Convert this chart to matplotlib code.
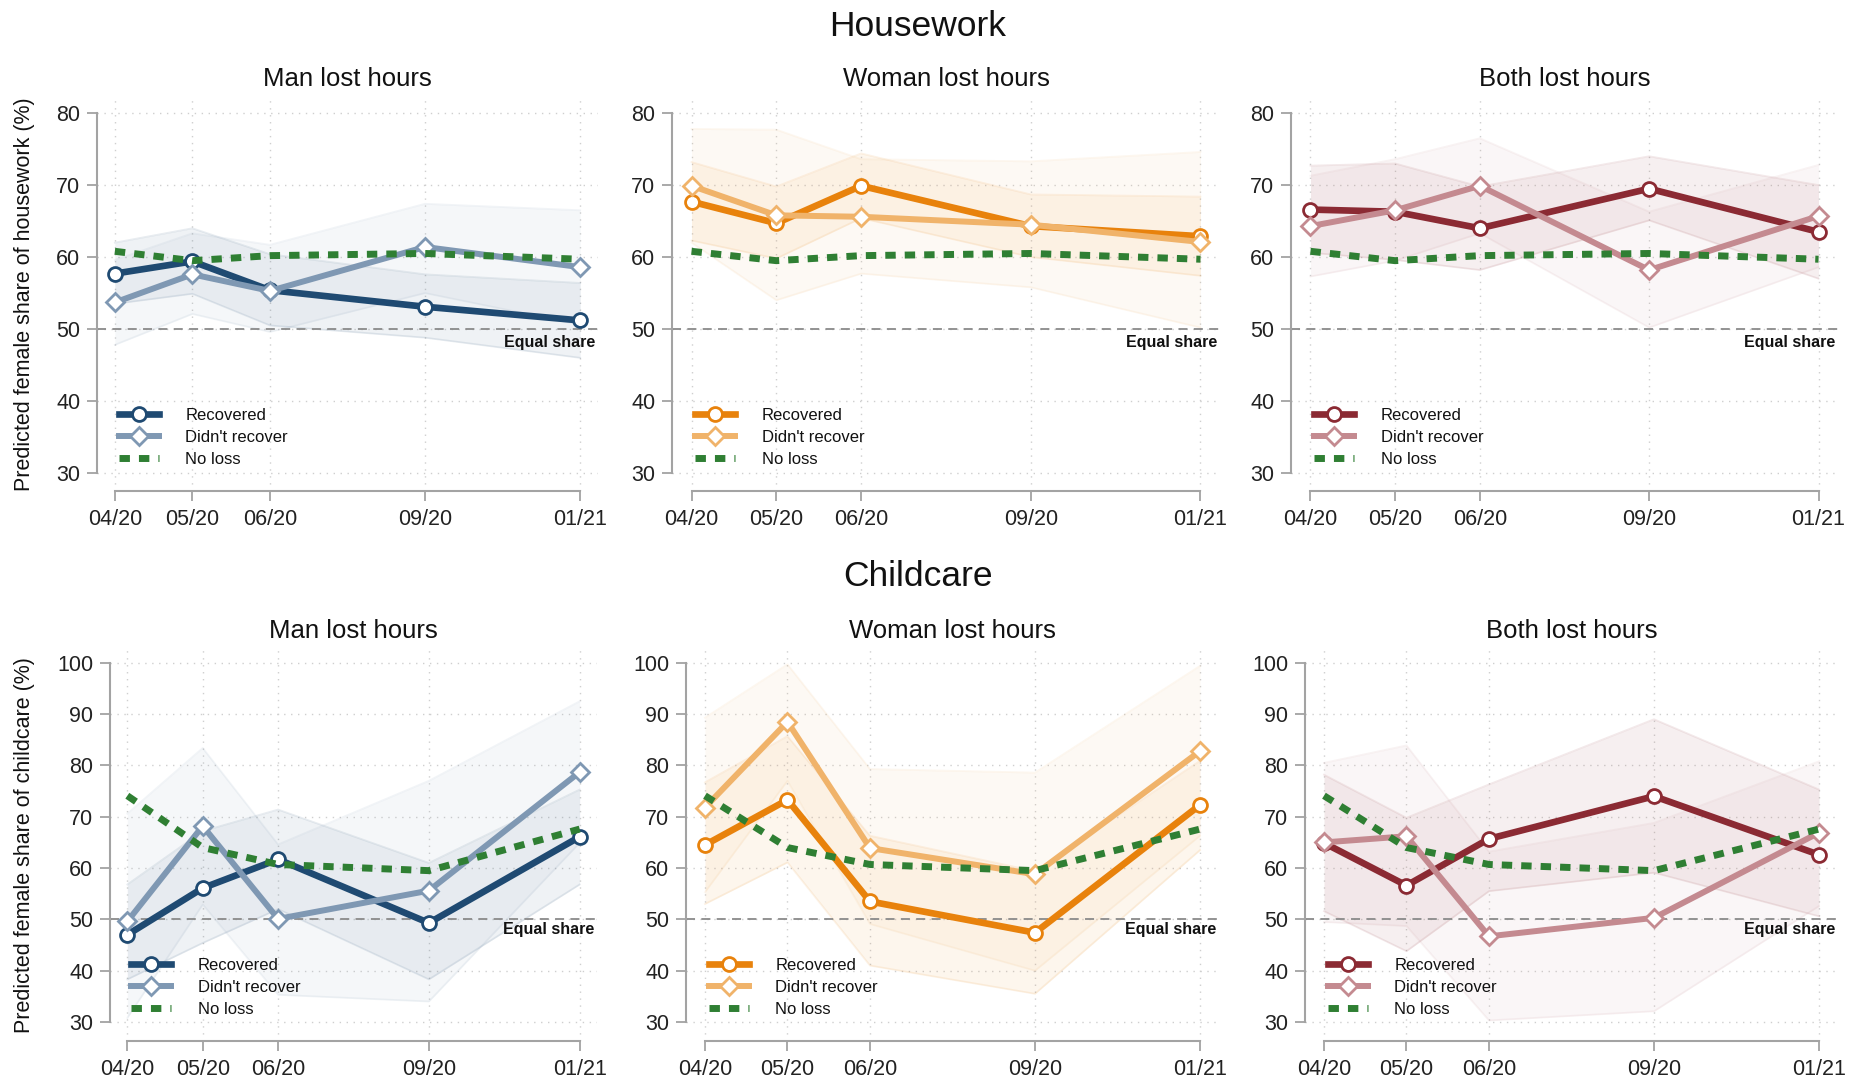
import matplotlib
matplotlib.use("Agg")
import matplotlib.pyplot as plt
from matplotlib.lines import Line2D

plt.rcParams.update({
    "font.family": ["Liberation Sans", "DejaVu Sans"],
    "font.size": 12,
    "text.color": "#111111",
})

# survey waves and their spacing on the x scale
wave_labels = ["04/20", "05/20", "06/20", "09/20", "01/21"]
wave_pos = [0, 1, 2, 4, 6]
series_labels = ["Recovered", "Didn't recover", "No loss"]
panel_titles = ["Man lost hours", "Woman lost hours", "Both lost hours"]

# ---- housework: predicted female share (%) ----
hw_noloss = [60.8, 59.5, 60.2, 60.5, 59.7]

hw_man_rec = [57.7, 59.4, 55.4, 53.1, 51.2]
hw_man_rec_lo = [53.5, 54.9, 50.5, 48.8, 46.0]
hw_man_rec_hi = [62.0, 64.0, 60.4, 57.6, 56.4]
hw_man_not = [53.7, 57.6, 55.3, 61.4, 58.6]
hw_man_not_lo = [47.8, 52.1, 49.6, 55.0, 50.6]
hw_man_not_hi = [59.6, 63.3, 61.7, 67.4, 66.5]

hw_wom_rec = [67.7, 64.7, 69.9, 64.3, 62.9]
hw_wom_rec_lo = [62.3, 59.8, 65.4, 60.0, 57.4]
hw_wom_rec_hi = [73.2, 69.8, 74.4, 68.7, 68.4]
hw_wom_not = [69.9, 65.8, 65.6, 64.5, 62.1]
hw_wom_not_lo = [62.0, 54.0, 57.7, 55.8, 50.2]
hw_wom_not_hi = [77.8, 77.7, 73.6, 73.3, 74.6]

hw_both_rec = [66.6, 66.3, 64.0, 69.5, 63.5]
hw_both_rec_lo = [60.6, 59.6, 58.2, 65.1, 57.0]
hw_both_rec_hi = [72.7, 73.0, 69.8, 74.0, 70.0]
hw_both_not = [64.3, 66.5, 69.9, 58.2, 65.7]
hw_both_not_lo = [57.3, 59.5, 63.3, 50.2, 58.6]
hw_both_not_hi = [71.3, 73.6, 76.5, 66.3, 72.8]

# ---- childcare: predicted female share (%) ----
cc_noloss = [74.1, 64.0, 60.7, 59.5, 67.6]

cc_man_rec = [47.0, 56.1, 61.7, 49.3, 66.1]
cc_man_rec_lo = [38.3, 45.4, 52.0, 38.3, 56.8]
cc_man_rec_hi = [56.8, 67.2, 71.4, 61.0, 75.3]
cc_man_not = [49.6, 68.2, 50.1, 55.6, 78.7]
cc_man_not_lo = [30.8, 52.9, 35.3, 34.0, 64.9]
cc_man_not_hi = [70.6, 83.4, 64.6, 77.0, 92.5]

cc_wom_rec = [64.5, 73.3, 53.5, 47.4, 72.3]
cc_wom_rec_lo = [53.0, 61.1, 41.0, 35.5, 63.5]
cc_wom_rec_hi = [76.7, 85.7, 66.3, 59.4, 80.9]
cc_wom_not = [71.8, 88.5, 63.9, 58.8, 82.8]
cc_wom_not_lo = [55.3, 77.0, 49.1, 40.0, 66.3]
cc_wom_not_hi = [89.3, 99.7, 79.3, 78.6, 99.4]

cc_both_rec = [64.9, 56.6, 65.7, 74.0, 62.6]
cc_both_rec_lo = [51.6, 43.8, 55.5, 59.1, 50.6]
cc_both_rec_hi = [78.2, 69.8, 76.3, 89.0, 75.3]
cc_both_not = [65.0, 66.2, 46.7, 50.3, 66.9]
cc_both_not_lo = [49.5, 48.7, 30.3, 32.1, 52.6]
cc_both_not_hi = [80.5, 83.9, 63.2, 68.8, 80.8]

# (recovered, didn't recover) colours per group
group_colors = [
    ("#1f4a72", "#7f98b3"),
    ("#e8820c", "#f0b36a"),
    ("#8b2a33", "#c48a90"),
]
GREEN = "#2f7f33"
GRID = "#cfcfcf"
AXIS = "#a3a3a3"

W, H = 1850, 1083
fig = plt.figure(figsize=(W / 100, H / 100), dpi=100)

# pixel boxes (left, right, top, bottom) for each panel
boxes = [
    [(97, 598, 98, 491), (672, 1220, 98, 491), (1291, 1838, 98, 491)],
    [(110, 597, 650, 1041), (686, 1219, 650, 1041), (1305, 1838, 650, 1041)],
]

rows = [
    {
        "title": "Housework",
        "title_y": 27,
        "ylabel": "Predicted female share of housework (%)",
        "ylim": (27.5, 82.1),
        "yticks": [30, 40, 50, 60, 70, 80],
        "noloss": hw_noloss,
        "panels": [
            (hw_man_rec, hw_man_rec_lo, hw_man_rec_hi, hw_man_not, hw_man_not_lo, hw_man_not_hi),
            (hw_wom_rec, hw_wom_rec_lo, hw_wom_rec_hi, hw_wom_not, hw_wom_not_lo, hw_wom_not_hi),
            (hw_both_rec, hw_both_rec_lo, hw_both_rec_hi, hw_both_not, hw_both_not_lo, hw_both_not_hi),
        ],
    },
    {
        "title": "Childcare",
        "title_y": 577,
        "ylabel": "Predicted female share of childcare (%)",
        "ylim": (26.3, 102.5),
        "yticks": [30, 40, 50, 60, 70, 80, 90, 100],
        "noloss": cc_noloss,
        "panels": [
            (cc_man_rec, cc_man_rec_lo, cc_man_rec_hi, cc_man_not, cc_man_not_lo, cc_man_not_hi),
            (cc_wom_rec, cc_wom_rec_lo, cc_wom_rec_hi, cc_wom_not, cc_wom_not_lo, cc_wom_not_hi),
            (cc_both_rec, cc_both_rec_lo, cc_both_rec_hi, cc_both_not, cc_both_not_lo, cc_both_not_hi),
        ],
    },
]


def band(ax, lo, hi, color):
    ax.fill_between(wave_pos, lo, hi, color=color, alpha=0.07, lw=0, zorder=1)
    ax.plot(wave_pos, lo, color=color, alpha=0.10, lw=1.3, zorder=1)
    ax.plot(wave_pos, hi, color=color, alpha=0.10, lw=1.3, zorder=1)


for r, row in enumerate(rows):
    fig.text(918 / W, 1 - row["title_y"] / H, row["title"], fontsize=25.5,
             ha="center", va="center")
    for c, (rec, rec_lo, rec_hi, nrec, nrec_lo, nrec_hi) in enumerate(row["panels"]):
        l, rgt, t, b = boxes[r][c]
        ax = fig.add_axes([l / W, 1 - b / H, (rgt - l) / W, (b - t) / H])
        col_rec, col_not = group_colors[c]

        band(ax, rec_lo, rec_hi, col_rec)
        band(ax, nrec_lo, nrec_hi, col_not)

        ax.axhline(50, color="#8a8a8a", lw=1.3, dashes=(5, 3.5), zorder=2)
        ax.annotate("Equal share", xy=(1, 50), xycoords=("axes fraction", "data"),
                    xytext=(-2, -4 if r == 0 else -2), textcoords="offset points",
                    ha="right", va="top", fontsize=11.5, fontweight="bold")

        ax.plot(wave_pos, rec, color=col_rec, lw=4.8, marker="o", ms=10,
                mfc="white", mec=col_rec, mew=2.0, zorder=3)
        ax.plot(wave_pos, nrec, color=col_not, lw=4.3, marker="D", ms=9,
                mfc="white", mec=col_not, mew=2.0, zorder=3)
        ax.plot(wave_pos, row["noloss"], color=GREEN, lw=5, dashes=(1.5, 1.3),
                zorder=4)

        ax.set_xlim(-0.23, 6.23)
        ax.set_ylim(*row["ylim"])
        ax.set_xticks(wave_pos)
        ax.set_xticklabels(wave_labels)
        ax.set_yticks(row["yticks"])

        for s in ("top", "right"):
            ax.spines[s].set_visible(False)
        for s in ("left", "bottom"):
            ax.spines[s].set_color(AXIS)
            ax.spines[s].set_linewidth(1.5)
        ax.spines["left"].set_bounds(row["yticks"][0], row["yticks"][-1])
        ax.spines["bottom"].set_bounds(wave_pos[0], wave_pos[-1])
        ax.tick_params(axis="both", colors=AXIS, labelcolor="#222222",
                       labelsize=15.5, length=7, width=1.3)
        ax.tick_params(axis="x", pad=6)
        ax.tick_params(axis="y", pad=5)

        ax.grid(True, color=GRID, lw=1.0, linestyle=(0, (1, 4)), zorder=0)
        ax.set_axisbelow(True)
        ax.set_facecolor("none")

        ax.set_title(panel_titles[c], fontsize=18.5, pad=9)

        handles = [
            Line2D([], [], color=col_rec, lw=4.8, marker="o", ms=10, mfc="white",
                   mec=col_rec, mew=2.0),
            Line2D([], [], color=col_not, lw=4.3, marker="D", ms=9, mfc="white",
                   mec=col_not, mew=2.0),
            Line2D([], [], color=GREEN, lw=5, dashes=(1.5, 1.3)),
        ]
        ax.legend(handles, series_labels, loc="lower left",
                  bbox_to_anchor=(0.03, 0.045), frameon=False, fontsize=12,
                  handlelength=2.4, handletextpad=1.6, labelspacing=0.42,
                  borderaxespad=0)

    t0, b0 = boxes[r][0][2], boxes[r][0][3]
    fig.text(25 / W, 1 - (t0 + b0) / 2 / H, row["ylabel"], rotation=90,
             ha="center", va="center", fontsize=15.5)

fig.savefig("out.png", dpi=100)
